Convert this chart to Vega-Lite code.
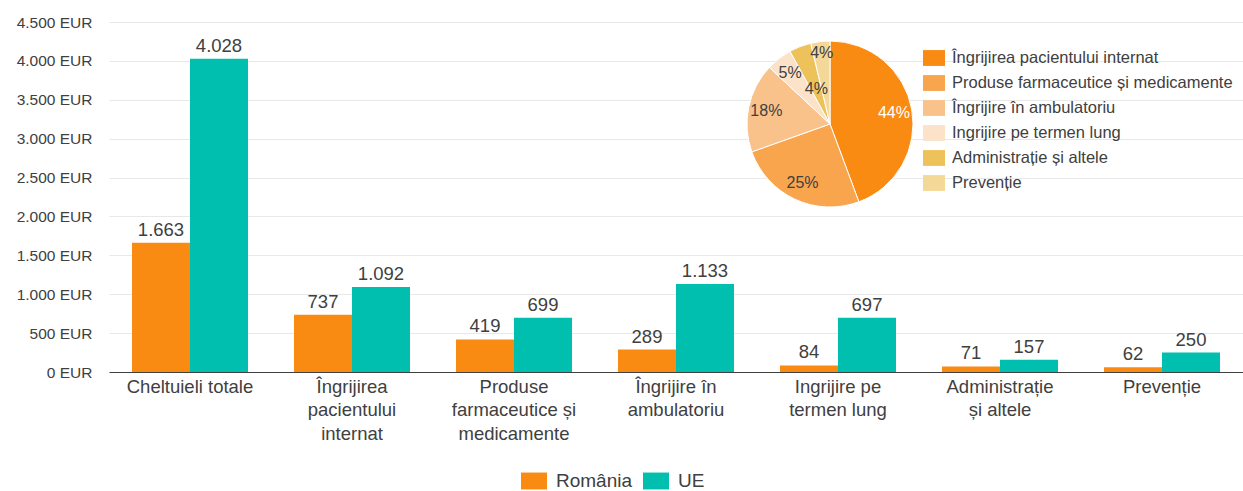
{
  "$schema": "https://vega.github.io/schema/vega-lite/v6.json",
  "width": 1134,
  "height": 350,
  "autosize": {"type": "none"},
  "padding": {"left": 109, "top": 22, "right": 0, "bottom": 119},
  "config": {
    "font": "Liberation Sans",
    "view": {"stroke": null},
    "locale": {"number": {"decimal": ",", "thousands": ".", "grouping": [3], "currency": ["", " EUR"]}}
  },
  "datasets": {
    "bars": [
      {"cat": "Cheltuieli totale", "region": "România", "value": 1663},
      {"cat": "Cheltuieli totale", "region": "UE", "value": 4028},
      {"cat": "Îngrijirea pacientului internat", "region": "România", "value": 737},
      {"cat": "Îngrijirea pacientului internat", "region": "UE", "value": 1092},
      {"cat": "Produse farmaceutice și medicamente", "region": "România", "value": 419},
      {"cat": "Produse farmaceutice și medicamente", "region": "UE", "value": 699},
      {"cat": "Îngrijire în ambulatoriu", "region": "România", "value": 289},
      {"cat": "Îngrijire în ambulatoriu", "region": "UE", "value": 1133},
      {"cat": "Ingrijire pe termen lung", "region": "România", "value": 84},
      {"cat": "Ingrijire pe termen lung", "region": "UE", "value": 697},
      {"cat": "Administrație și altele", "region": "România", "value": 71},
      {"cat": "Administrație și altele", "region": "UE", "value": 157},
      {"cat": "Prevenție", "region": "România", "value": 62},
      {"cat": "Prevenție", "region": "UE", "value": 250}
    ],
    "pie": [
      {"cat": "Îngrijirea pacientului internat", "value": 737, "pct": "44%"},
      {"cat": "Produse farmaceutice și medicamente", "value": 419, "pct": "25%"},
      {"cat": "Îngrijire în ambulatoriu", "value": 289, "pct": "18%"},
      {"cat": "Ingrijire pe termen lung", "value": 84, "pct": "5%"},
      {"cat": "Administrație și altele", "value": 71, "pct": "4%"},
      {"cat": "Prevenție", "value": 62, "pct": "4%"}
    ]
  },
  "layer": [
    {
      "data": {"name": "bars"},
      "encoding": {
        "x": {
          "field": "cat",
          "type": "nominal",
          "sort": null,
          "scale": {"paddingInner": 0.284, "paddingOuter": 0.142},
          "axis": {
            "title": null,
            "labelAngle": 0,
            "ticks": false,
            "grid": false,
            "domainColor": "#404040",
            "labelFontSize": 18.5,
            "labelColor": "#404040",
            "labelPadding": 5,
            "labelLineHeight": 23.5,
            "labelLimit": 300,
            "labelExpr": "datum.value == 'Îngrijirea pacientului internat' ? ['Îngrijirea', 'pacientului', 'internat'] : datum.value == 'Produse farmaceutice și medicamente' ? ['Produse', 'farmaceutice și', 'medicamente'] : datum.value == 'Îngrijire în ambulatoriu' ? ['Îngrijire în', 'ambulatoriu'] : datum.value == 'Ingrijire pe termen lung' ? ['Ingrijire pe', 'termen lung'] : datum.value == 'Administrație și altele' ? ['Administrație', 'și altele'] : datum.value"
          }
        },
        "xOffset": {"field": "region", "type": "nominal", "sort": ["România", "UE"]},
        "y": {
          "field": "value",
          "type": "quantitative",
          "scale": {"domain": [0, 4500]},
          "axis": {
            "title": null,
            "values": [0, 500, 1000, 1500, 2000, 2500, 3000, 3500, 4000, 4500],
            "labelExpr": "format(datum.value, ',') + ' EUR'",
            "domain": false,
            "ticks": false,
            "gridColor": "#E8E8E8",
            "labelFontSize": 15.5,
            "labelColor": "#404040",
            "labelPadding": 17
          }
        }
      },
      "layer": [
        {
          "mark": {"type": "bar"},
          "encoding": {
            "color": {
              "field": "region",
              "type": "nominal",
              "scale": {"domain": ["România", "UE"], "range": ["#F98A12", "#00BFAE"]},
              "legend": {
                "orient": "none",
                "legendX": 412,
                "legendY": 446,
                "direction": "horizontal",
                "title": null,
                "symbolType": "M-1,-0.65H1V0.65H-1Z",
                "symbolSize": 676,
                "symbolStrokeWidth": 0,
                "labelFontSize": 19,
                "labelColor": "#404040",
                "labelOffset": 9,
                "columnPadding": 10
              }
            }
          }
        },
        {
          "mark": {"type": "text", "baseline": "bottom", "dy": -3, "fontSize": 18.5, "color": "#404040"},
          "encoding": {
            "text": {"field": "value", "type": "quantitative", "format": ",.0f"}
          }
        }
      ]
    },
    {
      "data": {"name": "pie"},
      "encoding": {
        "theta": {"field": "value", "type": "quantitative", "stack": true},
        "order": {"field": "value", "sort": "descending"}
      },
      "layer": [
        {
          "mark": {"type": "arc", "x": 721, "y": 102, "outerRadius": 83, "stroke": "white", "strokeWidth": 1},
          "encoding": {
            "color": {
              "field": "cat",
              "type": "nominal",
              "sort": null,
              "scale": {
                "domain": ["Îngrijirea pacientului internat", "Produse farmaceutice și medicamente", "Îngrijire în ambulatoriu", "Ingrijire pe termen lung", "Administrație și altele", "Prevenție"],
                "range": ["#F98A12", "#F9A54E", "#F9C28B", "#FDE2CA", "#EEC25A", "#F4D898"]
              },
              "legend": {
                "orient": "none",
                "legendX": 814,
                "legendY": 25,
                "direction": "vertical",
                "title": null,
                "symbolType": "M-1,-0.72H1V0.72H-1Z",
                "symbolSize": 484,
                "symbolStrokeWidth": 0,
                "labelFontSize": 16.5,
                "labelColor": "#404040",
                "labelOffset": 7,
                "labelLimit": 400,
                "rowPadding": 5
              }
            }
          }
        },
        {
          "mark": {"type": "text", "x": 721, "y": 102, "radius": 65, "fontSize": 16},
          "encoding": {
            "text": {"condition": {"test": "datum.value > 75", "field": "pct"}, "value": ""},
            "color": {"condition": {"test": "datum.value > 500", "value": "white"}, "value": "#404040"}
          }
        },
        {
          "mark": {"type": "text", "x": 721, "y": 102, "radius": 38, "fontSize": 16, "color": "#404040"},
          "encoding": {
            "text": {"condition": {"test": "datum.value > 65 && datum.value < 75", "field": "pct"}, "value": ""}
          }
        },
        {
          "mark": {"type": "text", "x": 721, "y": 102, "radius": 71, "fontSize": 16, "color": "#404040"},
          "encoding": {
            "text": {"condition": {"test": "datum.value < 65", "field": "pct"}, "value": ""}
          }
        }
      ]
    }
  ],
  "resolve": {"scale": {"color": "independent"}, "legend": {"color": "independent"}}
}
